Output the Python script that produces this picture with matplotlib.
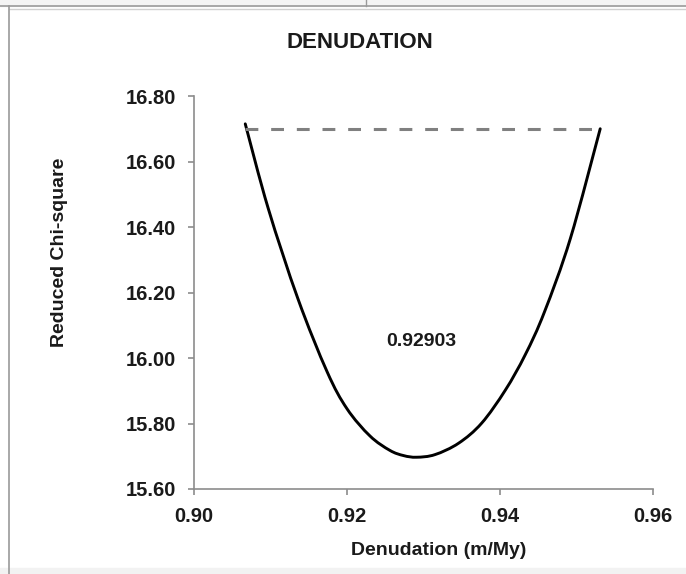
import matplotlib
matplotlib.use("Agg")
import matplotlib.pyplot as plt
from matplotlib.lines import Line2D
from matplotlib.patches import Rectangle, PathPatch
from matplotlib.path import Path
import numpy as np

plt.rcParams['font.family'] = ['Liberation Sans', 'DejaVu Sans']

# values
denudation = [0.9067, 0.9097, 0.9136, 0.9174, 0.9200, 0.9230, 0.9256, 0.9274, 0.9291,
              0.9315, 0.9346, 0.9376, 0.9407, 0.9433, 0.9458, 0.9492, 0.9531]
chi_square = [16.715, 16.457, 16.180, 15.958, 15.845, 15.762, 15.718, 15.702, 15.697,
              15.705, 15.740, 15.801, 15.902, 16.010, 16.140, 16.365, 16.700]
limit_x = [0.9067, 0.9531]
limit_y = [16.70, 16.70]
best_value = 0.92903
best_label_pos = (0.9297, 16.05)

x_ticks = [0.90, 0.92, 0.94, 0.96]
y_ticks = [15.60, 15.80, 16.00, 16.20, 16.40, 16.60, 16.80]


def smooth_path(xs, ys):
    # spreadsheet-style smoothed line: catmull-rom segments as cubic beziers
    p = np.column_stack([xs, ys])
    p = np.vstack([p[0], p, p[-1]])
    verts = [p[1]]
    codes = [Path.MOVETO]
    for i in range(1, len(p) - 2):
        c1 = p[i] + (p[i + 1] - p[i - 1]) / 6
        c2 = p[i + 1] - (p[i + 2] - p[i]) / 6
        verts += [c1, c2, p[i + 1]]
        codes += [Path.CURVE4] * 3
    return Path(verts, codes)


W, H = 686, 574
fig = plt.figure(figsize=(W / 100, H / 100), dpi=100)
ax = fig.add_axes([194 / W, (H - 489) / H, 459 / W, 393 / H])

ax.plot(limit_x, limit_y, color='#808080', lw=2.2, dashes=(4.2, 4.2), solid_capstyle='butt')
ax.add_patch(PathPatch(smooth_path(denudation, chi_square), fill=False,
                       edgecolor='black', lw=2.1, capstyle='round'))
ax.text(best_label_pos[0], best_label_pos[1], '%.5f' % best_value, ha='center', va='center',
        fontsize=14, fontweight='bold', color='#1a1a1a')

ax.set_xlim(0.90, 0.96)
ax.set_ylim(15.60, 16.80)
ax.set_xticks(x_ticks)
ax.set_yticks(y_ticks)
ax.set_xticklabels(['%.2f' % v for v in x_ticks])
ax.set_yticklabels(['%.2f' % v for v in y_ticks])

for s in ['top', 'right']:
    ax.spines[s].set_visible(False)
for s in ['left', 'bottom']:
    ax.spines[s].set_color('#8c8c8c')
    ax.spines[s].set_linewidth(1.2)
ax.tick_params(direction='out', length=4, width=1.2, color='#8c8c8c',
               labelsize=14.5, labelcolor='#1a1a1a')
ax.tick_params(axis='x', pad=9)
ax.tick_params(axis='y', pad=9)
for lab in ax.get_xticklabels() + ax.get_yticklabels():
    lab.set_fontweight('bold')

ax.set_xlabel('Denudation (m/My)', fontsize=14, fontweight='bold', color='#1a1a1a')
ax.xaxis.set_label_coords(0.532, -0.135)
ax.set_ylabel('Reduced Chi-square', fontsize=14, fontweight='bold', color='#1a1a1a')
ax.yaxis.set_label_coords(-0.275, 0.603)

fig.text(360 / W, 1 - 42 / H, 'DENUDATION', ha='center', va='center',
         fontsize=16, fontweight='bold', color='#1a1a1a')

# page frame bits around the chart
fig.patches.append(Rectangle((0, 1 - 6 / H), 1, 6 / H, transform=fig.transFigure,
                             color='#f4f4f4', zorder=0))
fig.patches.append(Rectangle((0, 0), 1, 6 / H, transform=fig.transFigure,
                             color='#f2f2f2', zorder=0))
fig.lines.append(Line2D([0, 1], [1 - 6 / H, 1 - 6 / H], transform=fig.transFigure,
                        color='#9a9a9a', lw=1.2))
fig.lines.append(Line2D([9 / W, 1], [1 - 9 / H, 1 - 9 / H], transform=fig.transFigure,
                        color='#d0d0d0', lw=1.0))
fig.lines.append(Line2D([9 / W, 9 / W], [0, 1 - 6 / H], transform=fig.transFigure,
                        color='#9a9a9a', lw=1.2))
fig.lines.append(Line2D([366 / W, 366 / W], [1 - 6 / H, 1], transform=fig.transFigure,
                        color='#9a9a9a', lw=1.0))

fig.savefig('out.png', dpi=100)
